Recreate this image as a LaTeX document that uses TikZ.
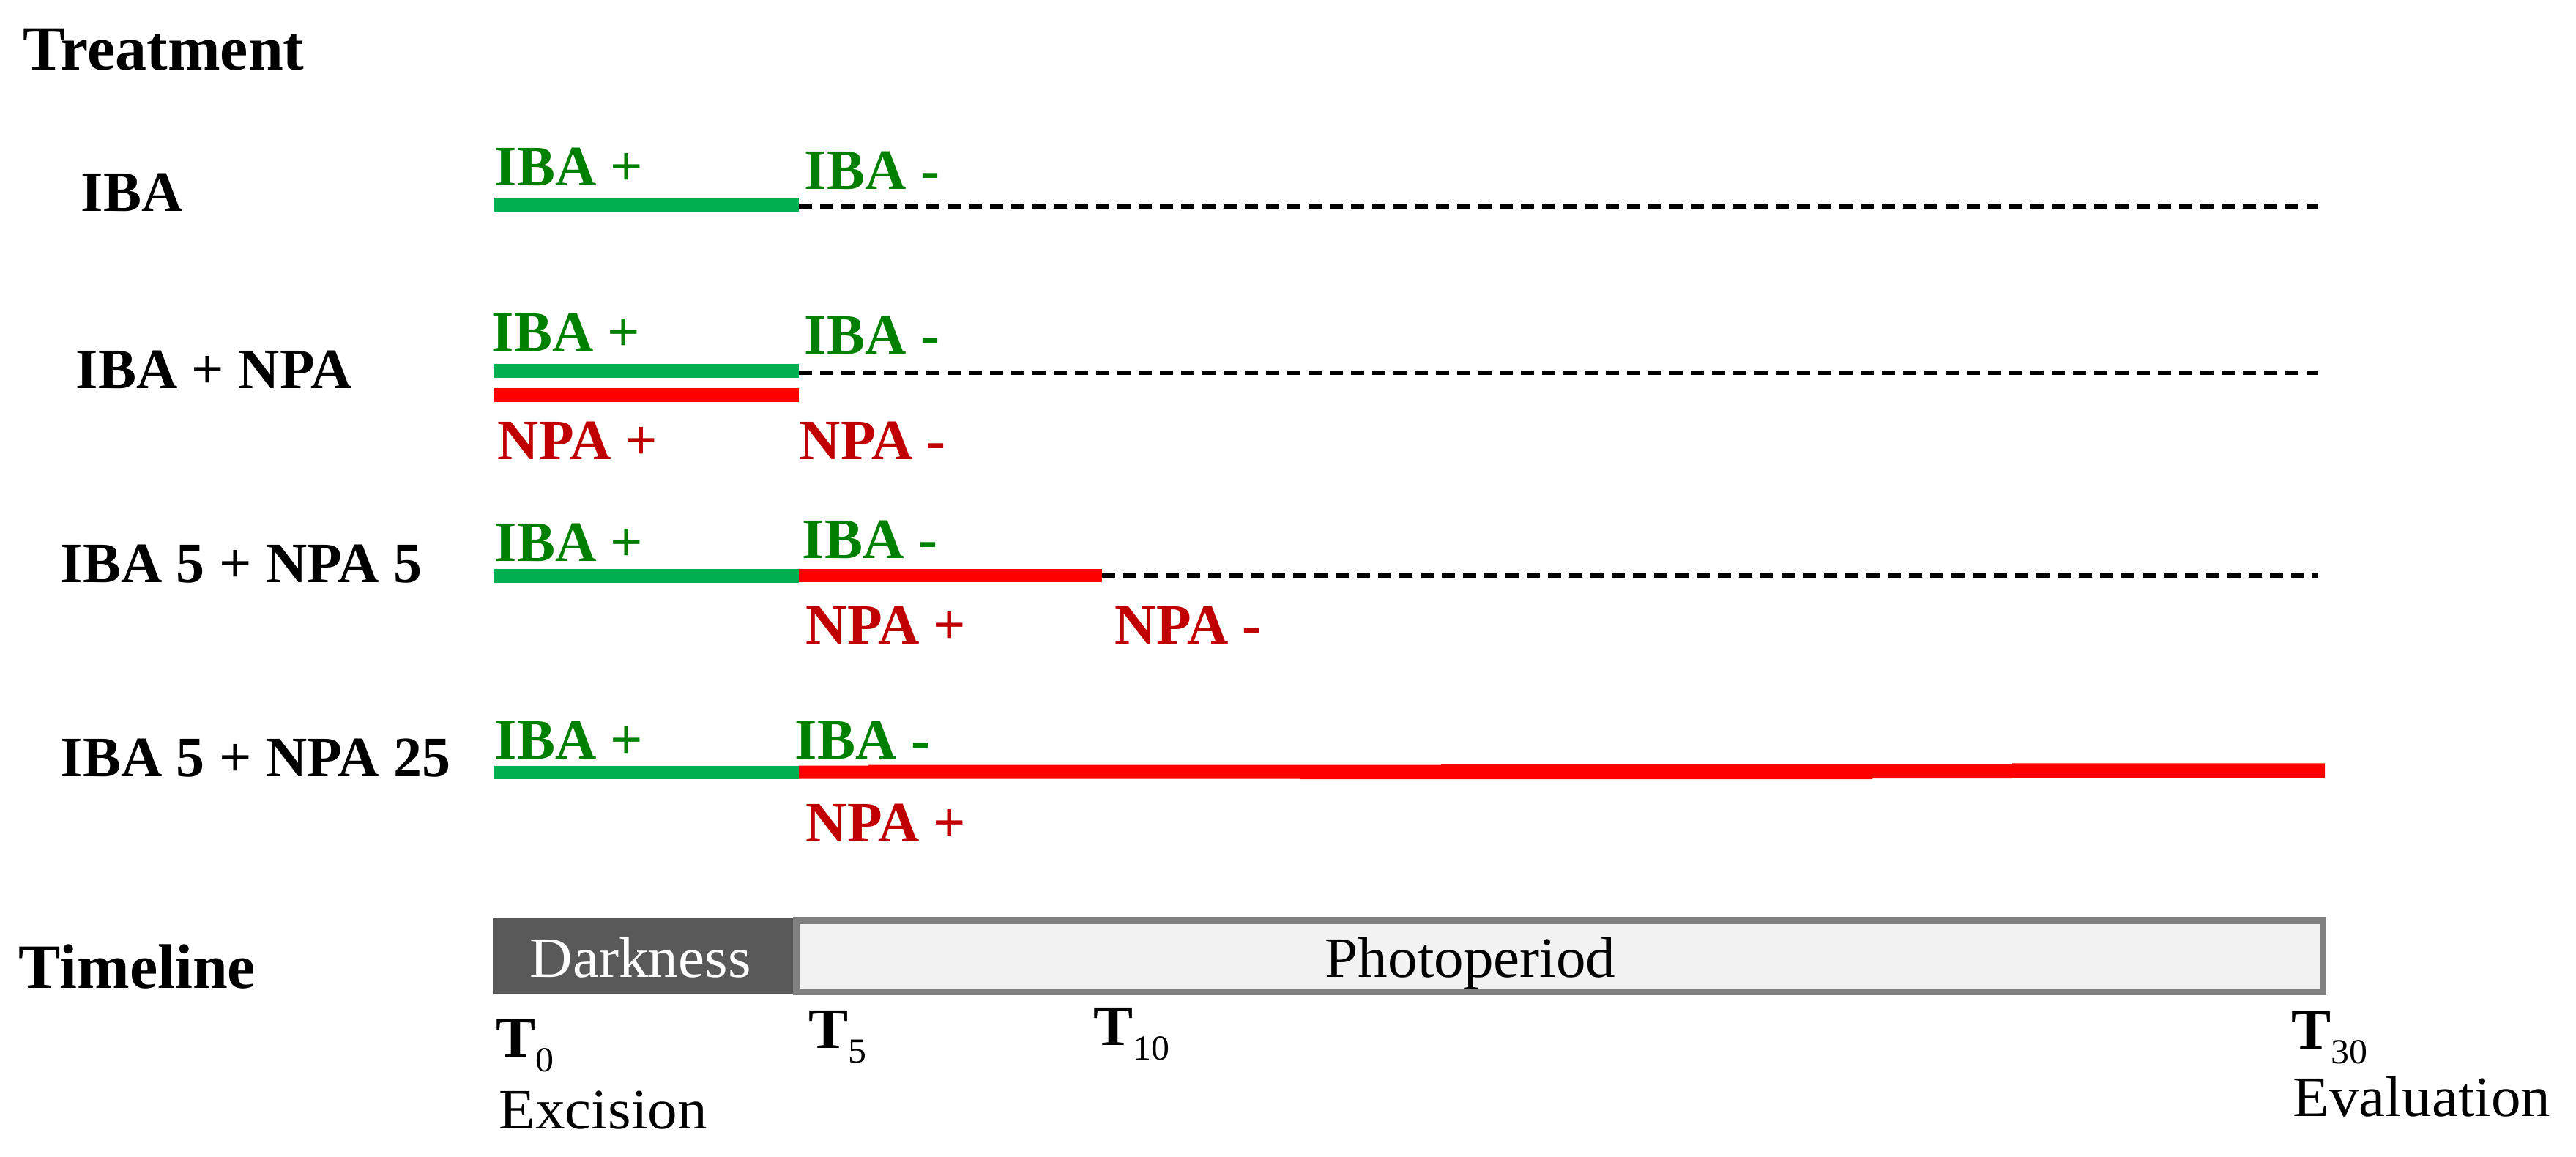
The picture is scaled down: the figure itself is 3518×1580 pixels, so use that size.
\documentclass[tikz,border=0pt]{standalone}
\usepackage{fontspec}
\setmainfont{Liberation Serif}
\newfontfamily\widefont[FakeStretch=1.04]{Liberation Serif}
\definecolor{txtgreen}{HTML}{008000}
\definecolor{bargreen}{HTML}{00B050}
\definecolor{txtred}{HTML}{C00000}
\definecolor{barred}{HTML}{FF0000}
\definecolor{darkbox}{HTML}{595959}
\definecolor{lightfill}{HTML}{F2F2F2}
\definecolor{lightborder}{HTML}{808080}
\tikzset{
  lbl/.style={anchor=base west, inner sep=0pt, font=\fontsize{19.5}{21}\selectfont\bfseries},
  head/.style={anchor=base west, inner sep=0pt, font=\fontsize{21.5}{23}\selectfont\bfseries},
  grn/.style={lbl, text=txtgreen},
  rd/.style={lbl, text=txtred},
  plain/.style={anchor=base west, inner sep=0pt, font=\fontsize{19.5}{21}\selectfont\widefont},
  gbar/.style={fill=bargreen},
  rbar/.style={fill=barred},
  dashline/.style={line width=1.5pt, dash pattern=on 4.375pt off 2.875pt},
}
\newcommand{\tsub}[2]{\textbf{#1}\lower5pt\hbox{\fontsize{12}{12}\selectfont #2}}
\begin{document}
\begin{tikzpicture}[x=0.25pt, y=-0.25pt]
\useasboundingbox (0,0) rectangle (3518,1580);
% headings
\node[head] (treat) at (31,96) {Treatment};
\node[head] (timeline) at (25,1349) {Timeline};
% left labels
\node[lbl] (l1) at (110,289) {IBA};
\node[lbl] (l2) at (103,531) {IBA + NPA};
\node[lbl] (l3) at (82,796) {IBA 5 + NPA 5};
\node[lbl] (l4) at (82,1060) {IBA 5 + NPA 25};
% row 1
\fill[gbar] (675,270) rectangle (1091,289);
\draw[dashline] (1091,282) coordinate (r1a) -- (3165,282) coordinate (r1b);
\node[grn] (r1p) at (675,254) {IBA +};
\node[grn] (r1m) at (1098,259) {IBA -};
% row 2
\fill[gbar] (675,497) rectangle (1091,516.5);
\fill[rbar] (675,530) rectangle (1091,549.5);
\draw[dashline] (1091,509) coordinate (r2a) -- (3165,509) coordinate (r2b);
\node[grn] (r2p) at (671,480) {IBA +};
\node[grn] (r2m) at (1098,484) {IBA -};
\node[rd] (r2np) at (679,628) {NPA +};
\node[rd] (r2nm) at (1091,628) {NPA -};
% row 3
\fill[gbar] (675,777) rectangle (1091,796);
\fill[rbar] (1091,777) rectangle (1505,795.5);
\draw[dashline] (1505,785.7) coordinate (r3a) -- (3165,785.7) coordinate (r3b);
\node[grn] (r3p) at (675,767) {IBA +};
\node[grn] (r3m) at (1095,763) {IBA -};
\node[rd] (r3np) at (1100,879) {NPA +};
\node[rd] (r3nm) at (1522,880) {NPA -};
% row 4
\fill[gbar] (675,1045.5) rectangle (1091,1063.7);
\fill[rbar] (1091,1045.5) -- (1186,1045.5) -- (1186,1044.5) -- (1968,1044.5) -- (1968,1043.5)
  -- (2748,1043.5) -- (2748,1042.4) -- (3175,1042.4) -- (3175,1062.5) -- (2748,1062.5)
  -- (2748,1063) -- (2557,1063) -- (2557,1064) -- (1776,1064) -- (1776,1063.7) -- (1091,1063.7) -- cycle;
\node[grn] (r4p) at (675,1036) {IBA +};
\node[grn] (r4m) at (1085,1036) {IBA -};
\node[rd] (r4np) at (1100,1149) {NPA +};
% timeline
\fill[darkbox] (673,1254) rectangle (1083,1358);
\draw[lightborder, fill=lightfill, line width=2.375pt] (1087.5,1257) rectangle (3172.5,1354.5);
\node[plain, text=white] (dark) at (723,1334) {Darkness};
\node[plain] (photo) at (1809,1334) {Photoperiod};
\node[plain] (t0) at (677,1443) {\tsub{T}{0}};
\node[plain] (t5) at (1104,1431) {\tsub{T}{5}};
\node[plain] (t10) at (1493,1427) {\tsub{T}{10}};
\node[plain] (t30) at (3129,1432) {\tsub{T}{30}};
\node[plain] (exc) at (681,1541) {Excision};
\node[plain] (eval) at (3131,1524) {Evaluation};
\end{tikzpicture}
\end{document}
